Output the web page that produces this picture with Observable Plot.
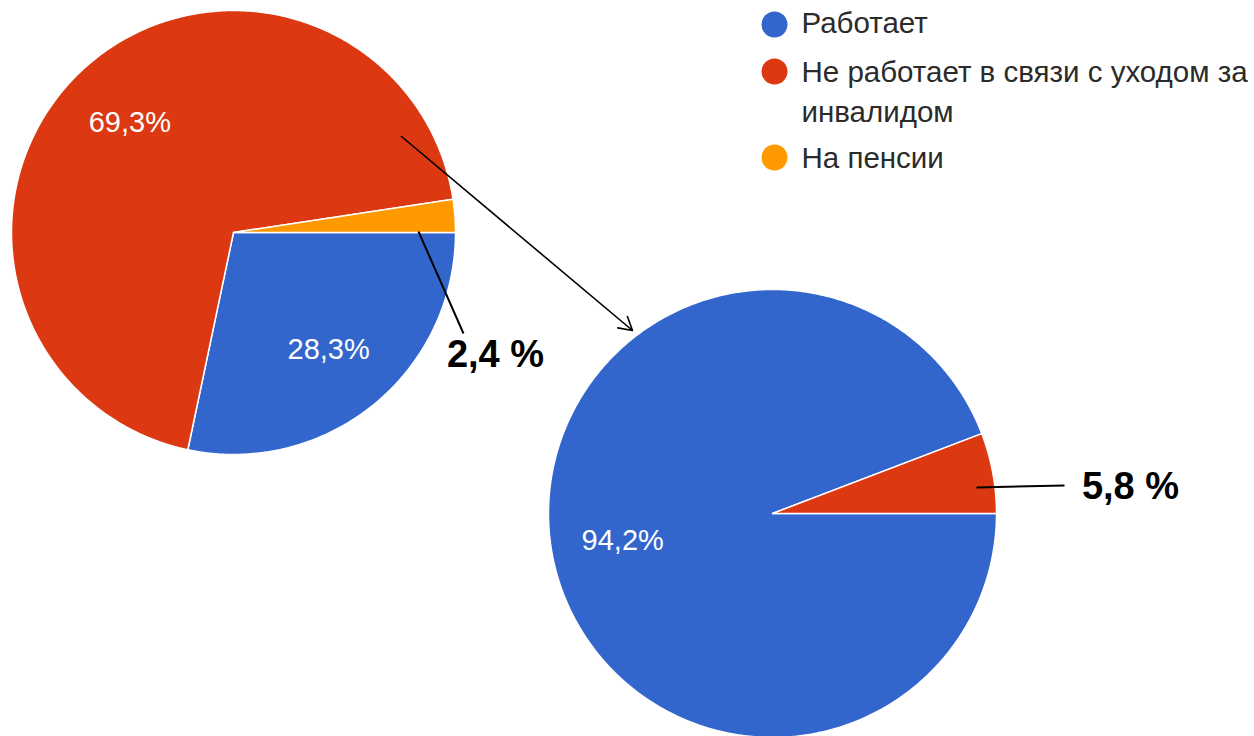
<!DOCTYPE html>
<html><head><meta charset="utf-8">
<script src="https://cdn.jsdelivr.net/npm/d3@7"></script>
<script src="https://cdn.jsdelivr.net/npm/@observablehq/plot@0.6"></script>
<style>body{margin:0;background:#fff}</style>
</head><body><div id="chart"></div>
<script>
const categories = ["Работает", "Не работает в связи с уходом за инвалидом", "На пенсии"];
const legendLabels = ["Работает", "Не работает в связи с уходом за\nинвалидом", "На пенсии"];
const colors = ["#3366cc", "#dc3912", "#ff9900"];
const pie1Values = [28.3, 69.3, 2.4];
const pie2Values = [94.2, 5.8, 0];
const pie1Labels = ["28,3%", "69,3%", ""];
const pie2Labels = ["94,2%", "", ""];
const calloutLabels = ["2,4 %", "5,8 %"];

// layout
const W = 1254, H = 736;
const pies = [
  {values: pie1Values, labels: pie1Labels, cx: 233, cy: 232, r: 222},
  {values: pie2Values, labels: pie2Labels, cx: 772, cy: 513, r: 224}
];

const slicePts = [], innerLabels = [];
pies.forEach((p, pi) => {
  const total = d3.sum(p.values);
  let a = 0;
  p.values.forEach((v, i) => {
    if (v <= 0) return;
    const a0 = a, a1 = a + v / total * 2 * Math.PI;
    a = a1;
    const key = pi + "-" + i;
    slicePts.push({key, cat: categories[i], x: p.cx, y: p.cy});
    const n = Math.max(4, Math.ceil((a1 - a0) * 80));
    for (let k = 0; k <= n; k++) {
      const t = a0 + (a1 - a0) * k / n;
      slicePts.push({key, cat: categories[i], x: p.cx + p.r * Math.cos(t), y: p.cy + p.r * Math.sin(t)});
    }
    if (p.labels[i]) {
      const m = (a0 + a1) / 2;
      innerLabels.push({text: p.labels[i], x: p.cx + 0.68 * p.r * Math.cos(m), y: p.cy + 0.68 * p.r * Math.sin(m)});
    }
  });
});

const legendFont = 29.5, legendLH = 40 / 29.5;
const legendBaselines = [33, 82, 168];
const legendRows = categories.map((c, i) => ({
  cat: c, label: legendLabels[i],
  ty: legendBaselines[i] - 0.71 * legendLH * legendFont,
  dy: legendBaselines[i] - [9, 11, 11][i]
}));
const callouts = [
  {text: calloutLabels[0], x: 495, y: 354, x1: 418, y1: 231, x2: 463, y2: 333},
  {text: calloutLabels[1], x: 1130, y: 486, x1: 976, y1: 487, x2: 1064, y2: 485}
];
const arrow = [{x1: 401, y1: 136, x2: 632, y2: 330}];

const chart = Plot.plot({
  width: W, height: H, margin: 0,
  x: {type: "identity", axis: null},
  y: {type: "identity", axis: null},
  color: {domain: categories, range: colors},
  style: {fontFamily: "'Liberation Sans', Arial, sans-serif", background: "#fff"},
  marks: [
    Plot.line(slicePts, {x: "x", y: "y", z: "key", fill: "cat", stroke: "white", strokeWidth: 1.5, curve: "linear-closed"}),
    Plot.text(innerLabels, {x: "x", y: "y", text: "text", fill: "white", fontSize: 29}),
    Plot.link(callouts, {x1: "x1", y1: "y1", x2: "x2", y2: "y2", stroke: "black", strokeWidth: 2}),
    Plot.text(callouts, {x: "x", y: "y", text: "text", fill: "black", fontSize: 38, fontWeight: "bold"}),
    Plot.arrow(arrow, {x1: "x1", y1: "y1", x2: "x2", y2: "y2", stroke: "black", strokeWidth: 1.6, headLength: 14}),
    Plot.dot(legendRows, {x: () => 774, y: "dy", r: 13, fill: "cat", stroke: null}),
    Plot.text(legendRows, {x: () => 801, y: "ty", text: "label", textAnchor: "start", lineAnchor: "top", fill: "#2b2b2b", fontSize: legendFont, lineHeight: legendLH})
  ]
});
document.getElementById("chart").appendChild(chart);
</script></body></html>
